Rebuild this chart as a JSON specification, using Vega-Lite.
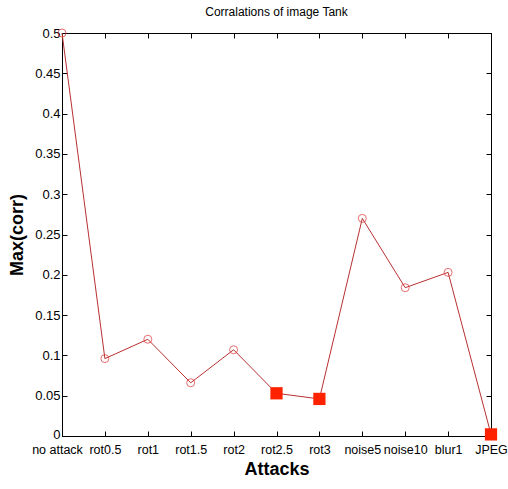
{
  "$schema": "https://vega.github.io/schema/vega-lite/v6.json",
  "autosize": "none",
  "width": 429,
  "height": 403,
  "padding": {"left": 62, "top": 33, "right": 17, "bottom": 53},
  "background": "white",
  "config": {
    "font": "Liberation Sans",
    "view": {"stroke": "black", "strokeWidth": 1},
    "axis": {"grid": false, "domainColor": "black", "tickColor": "black", "tickWidth": 1, "labelColor": "black", "labelFont": "Liberation Sans", "labelFontSize": 12.5, "titleFont": "Liberation Sans", "titleColor": "black"}
  },
  "title": {"text": "Corralations of image Tank", "fontSize": 12, "fontWeight": "normal", "font": "Liberation Sans", "color": "black", "offset": 8},
  "data": {"values": [
    {"attack": "no attack", "corr": 0.5, "m": "circle"},
    {"attack": "rot0.5", "corr": 0.096, "m": "circle"},
    {"attack": "rot1", "corr": 0.12, "m": "circle"},
    {"attack": "rot1.5", "corr": 0.066, "m": "circle"},
    {"attack": "rot2", "corr": 0.107, "m": "circle"},
    {"attack": "rot2.5", "corr": 0.053, "m": "square"},
    {"attack": "rot3", "corr": 0.046, "m": "square"},
    {"attack": "noise5", "corr": 0.27, "m": "circle"},
    {"attack": "noise10", "corr": 0.184, "m": "circle"},
    {"attack": "blur1", "corr": 0.203, "m": "circle"},
    {"attack": "JPEG", "corr": 0.002, "m": "square"}
  ]},
  "resolve": {"axis": {"x": "independent", "y": "independent"}},
  "layer": [
    {
      "mark": {"type": "line", "color": "#b83030", "strokeWidth": 1},
      "encoding": {
        "x": {"field": "attack", "type": "ordinal", "sort": null, "scale": {"type": "point", "padding": 0},
              "axis": {"orient": "bottom", "title": "Attacks", "titleFontSize": 18, "titleFontWeight": "bold", "titlePadding": 5, "labelAngle": 0, "tickSize": -5, "labelPadding": 12, "labelFlush": false, "labelOverlap": false,
                       "labelOffset": {"condition": {"test": "datum.value == 'no attack'", "value": -5}, "value": 0}}},
        "y": {"field": "corr", "type": "quantitative", "scale": {"domain": [0, 0.5], "nice": false, "zero": true},
              "axis": {"orient": "left", "title": "Max(corr)", "titleFontSize": 18, "titleFontWeight": "bold", "titlePadding": 8, "format": ".2~f", "labelFontSize": 13, "values": [0, 0.05, 0.1, 0.15, 0.2, 0.25, 0.3, 0.35, 0.4, 0.45, 0.5], "tickSize": -5, "labelPadding": 7, "labelFlush": false,
                       "labelOffset": {"condition": {"test": "datum.value == 0", "value": -2}, "value": 0}}}
      }
    },
    {
      "transform": [{"filter": "datum.m == 'circle'"}],
      "mark": {"type": "point", "shape": "circle", "filled": false, "stroke": "#e03030", "strokeWidth": 1, "size": 64},
      "encoding": {
        "x": {"field": "attack", "type": "ordinal", "sort": null, "scale": {"type": "point", "padding": 0},
              "axis": {"orient": "top", "title": null, "labels": false, "tickSize": -5, "domain": false}},
        "y": {"field": "corr", "type": "quantitative", "scale": {"domain": [0, 0.5], "nice": false},
              "axis": {"orient": "right", "title": null, "labels": false, "tickSize": -5, "domain": false, "values": [0, 0.05, 0.1, 0.15, 0.2, 0.25, 0.3, 0.35, 0.4, 0.45, 0.5]}}
      }
    },
    {
      "transform": [{"filter": "datum.m == 'square'"}],
      "mark": {"type": "point", "shape": "square", "filled": true, "color": "#ff2200", "opacity": 1, "size": 150},
      "encoding": {
        "x": {"field": "attack", "type": "ordinal", "sort": null, "scale": {"type": "point", "padding": 0}, "axis": null},
        "y": {"field": "corr", "type": "quantitative", "scale": {"domain": [0, 0.5], "nice": false}, "axis": null}
      }
    }
  ]
}
